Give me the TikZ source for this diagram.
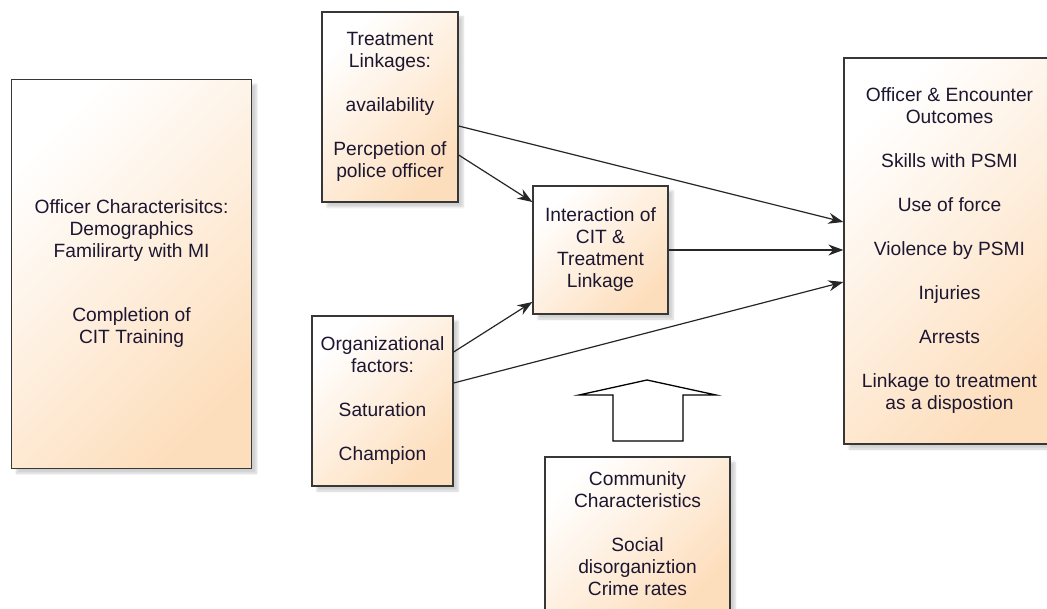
\documentclass[tikz,border=0pt]{standalone}
\usepackage{fontspec}
\setmainfont{Liberation Sans}
\usetikzlibrary{arrows.meta,shadows.blur}
\definecolor{peach}{RGB}{253,222,188}
\definecolor{ink}{RGB}{28,22,48}
\definecolor{edge}{RGB}{55,55,55}
\begin{document}
\begin{tikzpicture}[x=1pt,y=-1pt,
  box/.style={draw=edge, line width=1.3pt, rectangle, align=center, text=ink,
    top color=white, bottom color=peach, shading angle=45,
    blur shadow={shadow xshift=5pt, shadow yshift=-5pt, shadow blur steps=6, shadow opacity=18},
    font=\fontsize{19.2}{22}\selectfont, inner sep=0pt},
  arr/.style={-{Stealth[length=15pt,width=11pt]}, line width=1.2pt, draw=black!85}]
\useasboundingbox (0,0) rectangle (1047,609);
\clip (0,0) rectangle (1047,609);
\node[box, minimum width=240pt, minimum height=389pt] (of) at (131.5,274) {Officer Characterisitcs:\\Demographics\\Familirarty with MI\\[42pt]Completion of\\CIT Training};
\node[box, minimum width=136pt, minimum height=190pt] (tl) at (390,107) {Treatment\\Linkages:\\[22pt]availability\\[22pt]Percpetion of\\police officer};
\node[box, minimum width=135pt, minimum height=128pt] (ix) at (600.5,250) {Interaction of\\CIT \&\\Treatment\\Linkage};
\node[box, minimum width=141pt, minimum height=170pt] (org) at (382.5,401) {Organizational\\factors:\\[22pt]Saturation\\[22pt]Champion};
\node[box, minimum width=185pt, minimum height=154pt] (cc) at (637.5,534) {Community\\Characteristics\\[22pt]Social\\disorganiztion\\Crime rates};
\node[box, minimum width=211pt, minimum height=386pt] (out) at (949.5,251) {Officer \& Encounter\\Outcomes\\[22pt]Skills with PSMI\\[22pt]Use of force\\[22pt]Violence by PSMI\\[22pt]Injuries\\[22pt]Arrests\\[22pt]Linkage to treatment\\as a dispostion};
\draw[arr] ([yshift=-19pt]tl.east) -- ([yshift=29pt]out.west);
\draw[arr] ([yshift=-48pt]tl.east) -- ([yshift=48pt]ix.west);
\draw[arr] (ix.east) -- (ix.east -| out.west);
\draw[arr] ([yshift=49pt]org.east) -- ([yshift=-52pt]ix.west);
\draw[arr] ([yshift=18pt]org.east) -- ([yshift=-31pt]out.west);
% block arrow from community box
\draw[line width=1.3pt, fill=white] (613,441) -- (613,395) -- (579,395) -- (647,380) -- (716,395) -- (683,395) -- (683,441) -- cycle;
\end{tikzpicture}
\end{document}
